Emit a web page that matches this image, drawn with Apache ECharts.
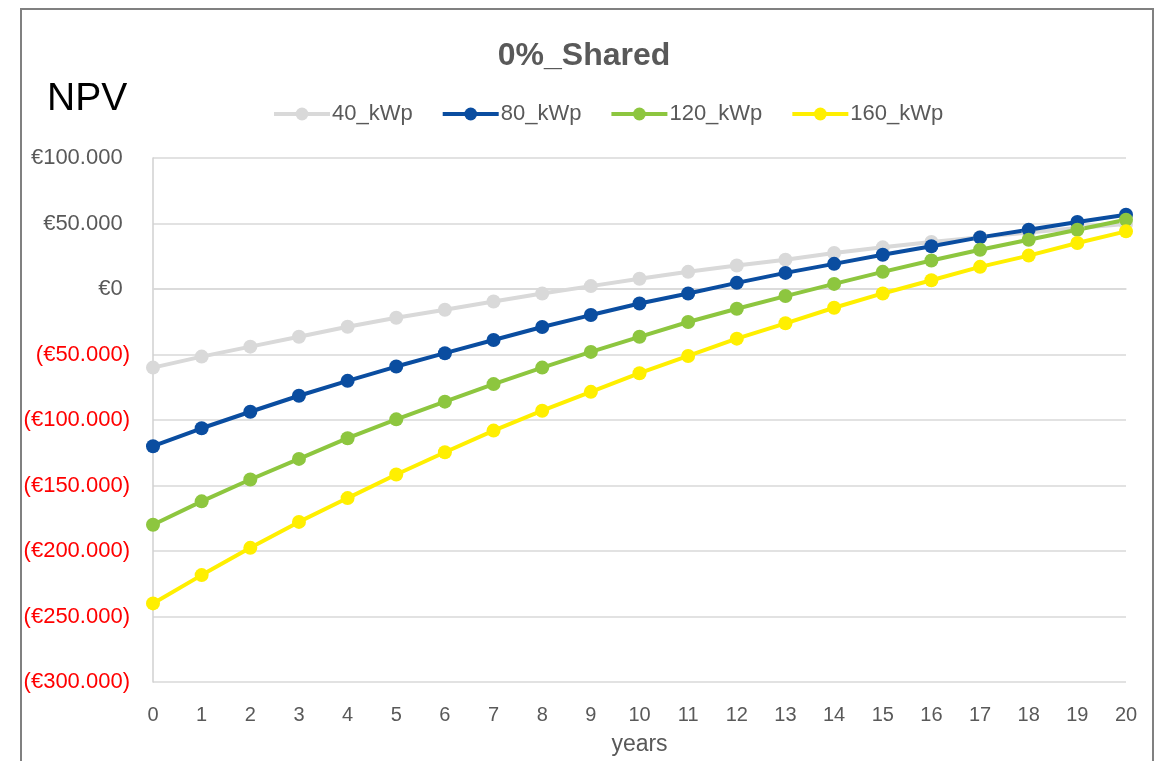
<!DOCTYPE html>
<html>
<head>
<meta charset="utf-8">
<title>0%_Shared – NPV</title>
<script src="https://cdn.jsdelivr.net/npm/echarts@6/dist/echarts.min.js"></script>
<style>
  html, body { margin: 0; padding: 0; background: #ffffff; }
  #chart { width: 1168px; height: 761px; }
</style>
</head>
<body>
<div id="chart"></div>
<script>
// Years on the horizontal axis
const years = ['0','1','2','3','4','5','6','7','8','9','10','11','12','13','14','15','16','17','18','19','20'];

// Net present value (EUR) per installed PV size
const kwp40  = [-60000, -51600, -44000, -36400, -28800, -21900, -15800, -9500, -3400, 2200, 7800, 13100, 17900, 22400, 27500, 31800, 35900, 39600, 43200, 46500, 49600];
const kwp80  = [-120000, -106300, -93700, -81500, -70100, -59200, -49000, -38900, -29000, -19900, -11100, -3400, 4700, 12300, 19200, 26200, 32600, 39400, 45200, 51100, 56700];
const kwp120 = [-180000, -162100, -145400, -129700, -113900, -99500, -86000, -72600, -60000, -48000, -36500, -25200, -15100, -5400, 3900, 13100, 21700, 30000, 37600, 45200, 52900];
const kwp160 = [-240000, -218400, -197600, -177800, -159600, -141600, -124600, -108100, -92900, -78500, -64300, -51100, -37900, -26200, -14300, -3400, 6700, 16900, 25500, 35100, 44000];

const seriesNames = ['40_kWp', '80_kWp', '120_kWp', '160_kWp'];
const seriesData = [kwp40, kwp80, kwp120, kwp160];
const seriesColors = ['#D9D9D9', '#0A4DA0', '#8DC63F', '#FFEF00'];

const FONT = '"Liberation Sans", Arial, sans-serif';
const TEXT_GREY = '#595959';

// Accounting style: €50.000 / (€50.000)
function euro(v) {
  const s = Math.abs(v).toString().replace(/\B(?=(\d{3})+(?!\d))/g, '.');
  if (v < 0) return '{neg|(€' + s + ')}';
  return '{pos|€' + s + '}{pad|)}';
}

const chart = echarts.init(document.getElementById('chart'), null, { renderer: 'canvas' });

chart.setOption({
  backgroundColor: '#ffffff',
  animation: false,
  title: {
    text: '0%_Shared',
    left: 'center',
    top: 35,
    textStyle: { fontFamily: FONT, fontSize: 32, fontWeight: 'bold', color: TEXT_GREY }
  },
  legend: {
    left: 267,
    top: 98,
    itemWidth: 56,
    itemHeight: 16,
    itemGap: 28,
    lineStyle: { width: 4 },
    textStyle: { fontFamily: FONT, fontSize: 22, color: TEXT_GREY, padding: [0, 0, 0, -3] },
    data: seriesNames
  },
  graphic: [
    {
      type: 'rect',
      shape: { x: 21, y: 9, width: 1132, height: 800 },
      style: { fill: 'none', stroke: '#808080', lineWidth: 2 },
      silent: true
    },
    {
      type: 'text',
      left: 47,
      top: 80,
      style: { text: 'NPV', fontFamily: FONT, fontSize: 39, fill: '#000000' },
      silent: true
    }
  ],
  grid: { left: 153, right: 42, top: 158, bottom: 75, containLabel: false },
  xAxis: {
    type: 'category',
    data: years,
    boundaryGap: false,
    name: 'years',
    nameLocation: 'middle',
    nameGap: 51,
    nameTextStyle: { fontFamily: FONT, fontSize: 23, color: TEXT_GREY },
    axisLine: { show: true, lineStyle: { color: '#D9D9D9', width: 1.5 } },
    axisTick: { show: false },
    axisLabel: { fontFamily: FONT, fontSize: 20, color: TEXT_GREY, margin: 23 },
    splitLine: { show: false }
  },
  yAxis: {
    type: 'value',
    min: -300000,
    max: 100000,
    interval: 50000,
    axisLine: { show: true, lineStyle: { color: '#D0D0D0', width: 1.5 } },
    axisTick: { show: false },
    splitLine: { show: true, lineStyle: { color: '#D9D9D9', width: 1.5 } },
    axisLabel: {
      margin: 23,
      formatter: euro,
      rich: {
        pos: { fontFamily: FONT, fontSize: 22, color: TEXT_GREY },
        neg: { fontFamily: FONT, fontSize: 22, color: '#FF0000' },
        pad: { fontFamily: FONT, fontSize: 22, color: 'rgba(0,0,0,0)' }
      }
    }
  },
  series: seriesNames.map((name, i) => ({
    name: name,
    type: 'line',
    data: seriesData[i],
    symbol: 'circle',
    symbolSize: 14,
    showSymbol: true,
    color: seriesColors[i],
    lineStyle: { width: 4, color: seriesColors[i] },
    itemStyle: { color: seriesColors[i] },
    emphasis: { disabled: true }
  }))
});
</script>
</body>
</html>
